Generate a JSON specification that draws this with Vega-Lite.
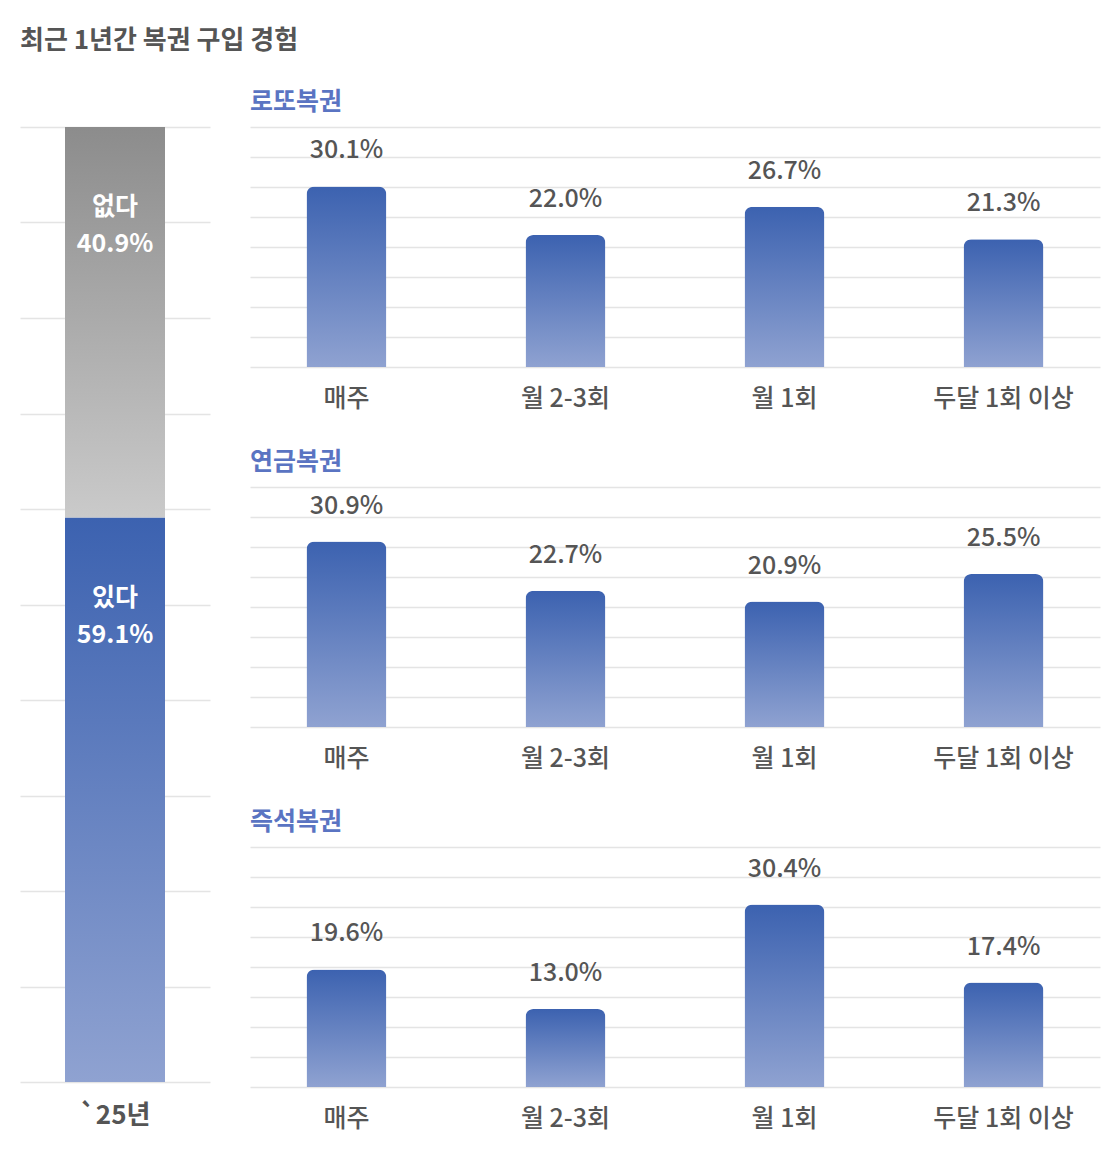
{
  "$schema": "https://vega.github.io/schema/vega-lite/v6.json",
  "padding": {"left": 20, "top": 28, "right": 20, "bottom": 10},
  "background": "white",
  "title": {
    "text": "최근 1년간 복권 구입 경험",
    "anchor": "start",
    "font": "Noto Sans CJK KR",
    "fontSize": 26,
    "fontWeight": "bold",
    "color": "#555555",
    "offset": 36
  },
  "config": {
    "view": {"stroke": null},
    "font": "Noto Sans CJK KR",
    "axis": {
      "gridColor": "#e4e4e4",
      "gridWidth": 1.5,
      "domain": false,
      "ticks": false
    },
    "axisY": {"labels": false, "title": null},
    "axisX": {"labelAngle": 0, "title": null, "grid": false, "labelColor": "#555555"}
  },
  "datasets": {
    "total": [
      {"year": "`25년", "answer": "있다", "pct": 59.1, "ord": 1},
      {"year": "`25년", "answer": "없다", "pct": 40.9, "ord": 2}
    ],
    "freq": [
      {"type": "로또복권", "freq": "매주", "pct": 30.1},
      {"type": "로또복권", "freq": "월 2-3회", "pct": 22.0},
      {"type": "로또복권", "freq": "월 1회", "pct": 26.7},
      {"type": "로또복권", "freq": "두달 1회 이상", "pct": 21.3},
      {"type": "연금복권", "freq": "매주", "pct": 30.9},
      {"type": "연금복권", "freq": "월 2-3회", "pct": 22.7},
      {"type": "연금복권", "freq": "월 1회", "pct": 20.9},
      {"type": "연금복권", "freq": "두달 1회 이상", "pct": 25.5},
      {"type": "즉석복권", "freq": "매주", "pct": 19.6},
      {"type": "즉석복권", "freq": "월 2-3회", "pct": 13.0},
      {"type": "즉석복권", "freq": "월 1회", "pct": 30.4},
      {"type": "즉석복권", "freq": "두달 1회 이상", "pct": 17.4}
    ]
  },
  "bounds": "flush",
  "spacing": 40,
  "hconcat": [
    {
      "width": 190,
      "height": 955,
      "data": {"name": "total"},
      "transform": [
        {"stack": "pct", "groupby": ["year"], "sort": [{"field": "ord", "order": "ascending"}], "as": ["y0", "y1"]},
        {"calculate": "format(datum.pct, '.1f') + '%'", "as": "label"}
      ],
      "encoding": {
        "x": {
          "field": "year", "type": "nominal",
          "axis": {"labelFontSize": 26, "labelFontWeight": "bold", "labelPadding": 20}
        }
      },
      "layer": [
        {
          "transform": [{"filter": "datum.answer === '있다'"}],
          "mark": {
            "type": "bar", "width": 100,
            "color": {"gradient": "linear", "x1": 0, "y1": 0, "x2": 0, "y2": 1,
              "stops": [{"offset": 0, "color": "#3c62b0"}, {"offset": 1, "color": "#8fa2d1"}]}
          },
          "encoding": {
            "y": {"field": "y1", "type": "quantitative", "scale": {"domain": [0, 100]},
              "axis": {"values": [0, 10, 20, 30, 40, 50, 60, 70, 80, 90, 100]}},
            "y2": {"field": "y0"}
          }
        },
        {
          "transform": [{"filter": "datum.answer === '없다'"}],
          "mark": {
            "type": "bar", "width": 100,
            "color": {"gradient": "linear", "x1": 0, "y1": 0, "x2": 0, "y2": 1,
              "stops": [{"offset": 0, "color": "#8c8c8c"}, {"offset": 1, "color": "#cacaca"}]}
          },
          "encoding": {
            "y": {"field": "y1", "type": "quantitative"},
            "y2": {"field": "y0"}
          }
        },
        {
          "mark": {"type": "text", "color": "white", "fontSize": 25, "fontWeight": "bold", "baseline": "middle", "dy": 80},
          "encoding": {
            "y": {"field": "y1", "type": "quantitative"},
            "text": {"field": "answer"}
          }
        },
        {
          "mark": {"type": "text", "color": "white", "fontSize": 25, "fontWeight": "bold", "baseline": "middle", "dy": 117},
          "encoding": {
            "y": {"field": "y1", "type": "quantitative"},
            "text": {"field": "label"}
          }
        }
      ]
    },
    {
      "bounds": "flush",
      "spacing": 120,
      "vconcat": [
        {
          "title": {"text": "로또복권", "anchor": "start", "fontSize": 25, "fontWeight": "bold", "color": "#5a74c2", "offset": 12},
          "width": 850,
          "height": 240,
          "data": {"name": "freq"},
          "transform": [
            {"filter": "datum.type === '로또복권'"},
            {"calculate": "format(datum.pct, '.1f') + '%'", "as": "label"}
          ],
          "encoding": {
            "x": {"field": "freq", "type": "nominal", "sort": null,
              "scale": {"paddingInner": 0.635, "paddingOuter": 0.258},
              "axis": {"labelFontSize": 25, "labelFontWeight": 500, "labelPadding": 19}},
            "y": {"field": "pct", "type": "quantitative", "scale": {"domain": [0, 40]},
              "axis": {"values": [0, 5, 10, 15, 20, 25, 30, 35, 40]}}
          },
          "layer": [
            {
              "mark": {"type": "bar", "cornerRadiusTopLeft": 8, "cornerRadiusTopRight": 8,
                "color": {"gradient": "linear", "x1": 0, "y1": 0, "x2": 0, "y2": 1,
                  "stops": [{"offset": 0, "color": "#3c62b0"}, {"offset": 1, "color": "#8fa2d1"}]}}
            },
            {
              "mark": {"type": "text", "fontSize": 25, "fontWeight": 500, "color": "#555555", "baseline": "middle", "dy": -36},
              "encoding": {"text": {"field": "label"}}
            }
          ]
        },
        {
          "title": {"text": "연금복권", "anchor": "start", "fontSize": 25, "fontWeight": "bold", "color": "#5a74c2", "offset": 12},
          "width": 850,
          "height": 240,
          "data": {"name": "freq"},
          "transform": [
            {"filter": "datum.type === '연금복권'"},
            {"calculate": "format(datum.pct, '.1f') + '%'", "as": "label"}
          ],
          "encoding": {
            "x": {"field": "freq", "type": "nominal", "sort": null,
              "scale": {"paddingInner": 0.635, "paddingOuter": 0.258},
              "axis": {"labelFontSize": 25, "labelFontWeight": 500, "labelPadding": 19}},
            "y": {"field": "pct", "type": "quantitative", "scale": {"domain": [0, 40]},
              "axis": {"values": [0, 5, 10, 15, 20, 25, 30, 35, 40]}}
          },
          "layer": [
            {
              "mark": {"type": "bar", "cornerRadiusTopLeft": 8, "cornerRadiusTopRight": 8,
                "color": {"gradient": "linear", "x1": 0, "y1": 0, "x2": 0, "y2": 1,
                  "stops": [{"offset": 0, "color": "#3c62b0"}, {"offset": 1, "color": "#8fa2d1"}]}}
            },
            {
              "mark": {"type": "text", "fontSize": 25, "fontWeight": 500, "color": "#555555", "baseline": "middle", "dy": -36},
              "encoding": {"text": {"field": "label"}}
            }
          ]
        },
        {
          "title": {"text": "즉석복권", "anchor": "start", "fontSize": 25, "fontWeight": "bold", "color": "#5a74c2", "offset": 12},
          "width": 850,
          "height": 240,
          "data": {"name": "freq"},
          "transform": [
            {"filter": "datum.type === '즉석복권'"},
            {"calculate": "format(datum.pct, '.1f') + '%'", "as": "label"}
          ],
          "encoding": {
            "x": {"field": "freq", "type": "nominal", "sort": null,
              "scale": {"paddingInner": 0.635, "paddingOuter": 0.258},
              "axis": {"labelFontSize": 25, "labelFontWeight": 500, "labelPadding": 19}},
            "y": {"field": "pct", "type": "quantitative", "scale": {"domain": [0, 40]},
              "axis": {"values": [0, 5, 10, 15, 20, 25, 30, 35, 40]}}
          },
          "layer": [
            {
              "mark": {"type": "bar", "cornerRadiusTopLeft": 8, "cornerRadiusTopRight": 8,
                "color": {"gradient": "linear", "x1": 0, "y1": 0, "x2": 0, "y2": 1,
                  "stops": [{"offset": 0, "color": "#3c62b0"}, {"offset": 1, "color": "#8fa2d1"}]}}
            },
            {
              "mark": {"type": "text", "fontSize": 25, "fontWeight": 500, "color": "#555555", "baseline": "middle", "dy": -36},
              "encoding": {"text": {"field": "label"}}
            }
          ]
        }
      ]
    }
  ]
}
